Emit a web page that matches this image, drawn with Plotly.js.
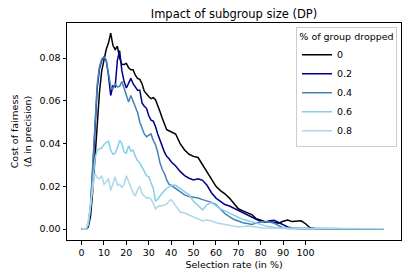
<!DOCTYPE html>
<html>
<head>
<meta charset="utf-8">
<script src="https://cdn.plot.ly/plotly-3.0.1.min.js"></script>
<style>html,body{margin:0;padding:0;background:#fff;}#chart{width:408px;height:278px;}</style>
</head>
<body>
<div id="chart"></div>
<script>
// Selection rate index
const xs = [0,1,2,3,4,5,6,7,8,9,10,11,12,13,14,15,16,17,18,19,20,21,22,23,24,25,26,27,28,29,30,31,32,33,34,35,36,37,38,39,40,
  42,44,46,48,50,52,54,56,58,60,62,64,66,68,70,72,74,76,78,80,82,84,86,88,90,92,94,96,98,100,102,104,106,
  110,115,120,125,130,135];

const drop0 = [0,0,0,0.001,0.006,0.018,0.035,0.05,0.064,0.074,0.08,0.084,0.087,0.0917,0.086,0.084,0.0855,0.08,0.077,0.077,0.0775,0.0755,0.0745,0.0745,0.072,0.0705,0.07,0.068,0.0645,0.063,0.062,0.061,0.0615,0.0605,0.058,0.055,0.052,0.049,0.0465,0.046,0.0455,
  0.0445,0.04,0.037,0.035,0.034,0.0335,0.03,0.027,0.023,0.02,0.018,0.0165,0.0145,0.012,0.0095,0.0085,0.0078,0.0068,0.0048,0.0042,0.0034,0.0034,0.0031,0.0028,0.0037,0.0042,0.0035,0.0037,0.0039,0.0025,0.0006,0.0003,0.0002,
  0.0002,0.0001,0.0001,0.0001,0.0001,0.0001];

const drop02 = [0,0,0,0.002,0.01,0.028,0.05,0.066,0.075,0.079,0.0805,0.079,0.072,0.0625,0.067,0.0665,0.079,0.0835,0.074,0.069,0.066,0.068,0.0705,0.068,0.0665,0.065,0.065,0.059,0.0575,0.0565,0.053,0.051,0.0505,0.048,0.0445,0.0415,0.038,0.036,0.034,0.033,0.0315,
  0.0295,0.027,0.025,0.0238,0.023,0.0235,0.0228,0.0205,0.017,0.0145,0.0128,0.0115,0.0108,0.0098,0.0088,0.0075,0.0065,0.0056,0.0045,0.0036,0.0033,0.0039,0.0041,0.003,0.0018,0.001,0.0005,0.0003,0.0003,0.0003,0.0003,0.0003,0.0003,
  0.0003,0.0003,0.0003,0.0002,0.0002,0.0001];

const drop04 = [0,0,0,0.002,0.011,0.03,0.052,0.068,0.076,0.0795,0.0805,0.079,0.073,0.067,0.0655,0.068,0.0665,0.0668,0.069,0.066,0.062,0.0595,0.0625,0.06,0.057,0.0545,0.05,0.047,0.0445,0.0432,0.0438,0.0445,0.0415,0.0395,0.036,0.031,0.028,0.026,0.023,0.021,0.0205,
  0.019,0.0175,0.016,0.0152,0.015,0.0145,0.0138,0.0133,0.0125,0.0115,0.0095,0.0072,0.0058,0.0045,0.0038,0.003,0.0026,0.0022,0.0028,0.0034,0.0034,0.0033,0.0027,0.0015,0.0005,0.0003,0.0002,0.0002,0.0002,0.0002,0.0002,0.0002,0.0002,
  0.0002,0.0002,0.0002,0.0002,0.0002,0.0002];

const drop06 = [0,0,0,0.002,0.01,0.022,0.033,0.037,0.0375,0.038,0.0395,0.0405,0.041,0.037,0.035,0.0355,0.038,0.0415,0.04,0.036,0.0355,0.039,0.0365,0.037,0.034,0.032,0.031,0.029,0.027,0.025,0.0245,0.022,0.019,0.013,0.014,0.0155,0.017,0.018,0.019,0.0198,0.0205,
  0.0205,0.019,0.0175,0.016,0.013,0.011,0.009,0.0115,0.0125,0.011,0.0095,0.0085,0.0075,0.0065,0.0055,0.0045,0.004,0.0035,0.0028,0.0022,0.0015,0.001,0.0008,0.0006,0.0005,0.0003,0.0003,0.0003,0.0003,0.0003,0.0003,0.0003,0.0003,
  0.0003,0.0002,0.0002,0.0002,0.0002,0.0002];

const drop08 = [0,0,0,0.004,0.012,0.02,0.026,0.024,0.0235,0.025,0.021,0.022,0.0237,0.018,0.021,0.0245,0.0205,0.021,0.0195,0.021,0.025,0.022,0.0195,0.017,0.0155,0.0185,0.02,0.0165,0.0155,0.0145,0.0148,0.014,0.012,0.0095,0.0105,0.011,0.0108,0.0112,0.0118,0.013,0.0138,
  0.011,0.008,0.0075,0.0065,0.0058,0.0045,0.0038,0.0042,0.0038,0.003,0.0026,0.0022,0.0016,0.0012,0.001,0.0012,0.0015,0.0012,0.0008,0.0006,0.0005,0.0004,0.0003,0.0003,0.0003,0.0003,0.0003,0.0003,0.0003,0.0003,0.0003,0.0003,0.0003,
  0.0003,0.0002,0.0002,0.0002,0.0002,0.0002];

const seriesNames = ['0','0.2','0.4','0.6','0.8'];
const seriesValues = [drop0, drop02, drop04, drop06, drop08];
const seriesColors = ['#000000','#00008B','#4682B4','#87CEEB','#ADD8E6'];

const xTickVals = [0,10,20,30,40,50,60,70,80,90,100];
const xTickText = ['0','10','20','30','40','50','60','70','80','90','100'];
const yTickVals = [0,0.02,0.04,0.06,0.08];

const FONT = 'DejaVu Sans, sans-serif';

const traces = seriesValues.map((v, i) => ({
  x: xs, y: v, type: 'scatter', mode: 'lines', name: seriesNames[i],
  line: {color: seriesColors[i], width: 1.5}
}));

const layout = {
  width: 408, height: 278,
  margin: {l: 67, r: 7, t: 23, b: 38, pad: 0},
  paper_bgcolor: '#fff', plot_bgcolor: '#fff',
  font: {family: FONT, size: 9.5, color: '#000'},
  title: {text: 'Impact of subgroup size (DP)', font: {family: FONT, size: 11.5, color: '#000'},
          x: 0.5, xref: 'paper', xanchor: 'center', y: 1, yref: 'paper', yanchor: 'bottom', pad: {b: 5}},
  xaxis: {
    range: [-6.5, 142.6], tickvals: xTickVals, ticktext: xTickText,
    showgrid: false, zeroline: false, showline: true, mirror: true, linecolor: '#000', linewidth: 1,
    ticks: 'outside', ticklen: 3.5, tickwidth: 1, tickcolor: '#000',
    tickfont: {family: FONT, size: 9.5, color: '#000'},
    title: {text: 'Selection rate (in %)', font: {family: FONT, size: 9.5, color: '#000'}, standoff: 4}
  },
  yaxis: {
    range: [-0.0051, 0.0964], tickvals: yTickVals, tickformat: '.2f',
    showgrid: false, zeroline: false, showline: true, mirror: true, linecolor: '#000', linewidth: 1,
    ticks: 'outside', ticklen: 3.5, tickwidth: 1, tickcolor: '#000',
    tickfont: {family: FONT, size: 9.5, color: '#000'},
    title: {text: 'Cost of fairness<br>(Δ in precision)', font: {family: FONT, size: 9.5, color: '#000'}, standoff: 6}
  },
  legend: {
    x: 0.988, xanchor: 'right', y: 0.982, yanchor: 'top',
    bgcolor: '#fff', bordercolor: '#cccccc', borderwidth: 1,
    font: {family: FONT, size: 9.5, color: '#000'},
    title: {text: '% of group dropped', font: {family: FONT, size: 9.5, color: '#000'}, side: 'top center'},
    tracegroupgap: 0, itemwidth: 30
  },
  showlegend: true
};

Plotly.newPlot('chart', traces, layout, {staticPlot: true, displayModeBar: false});
</script>
</body>
</html>
